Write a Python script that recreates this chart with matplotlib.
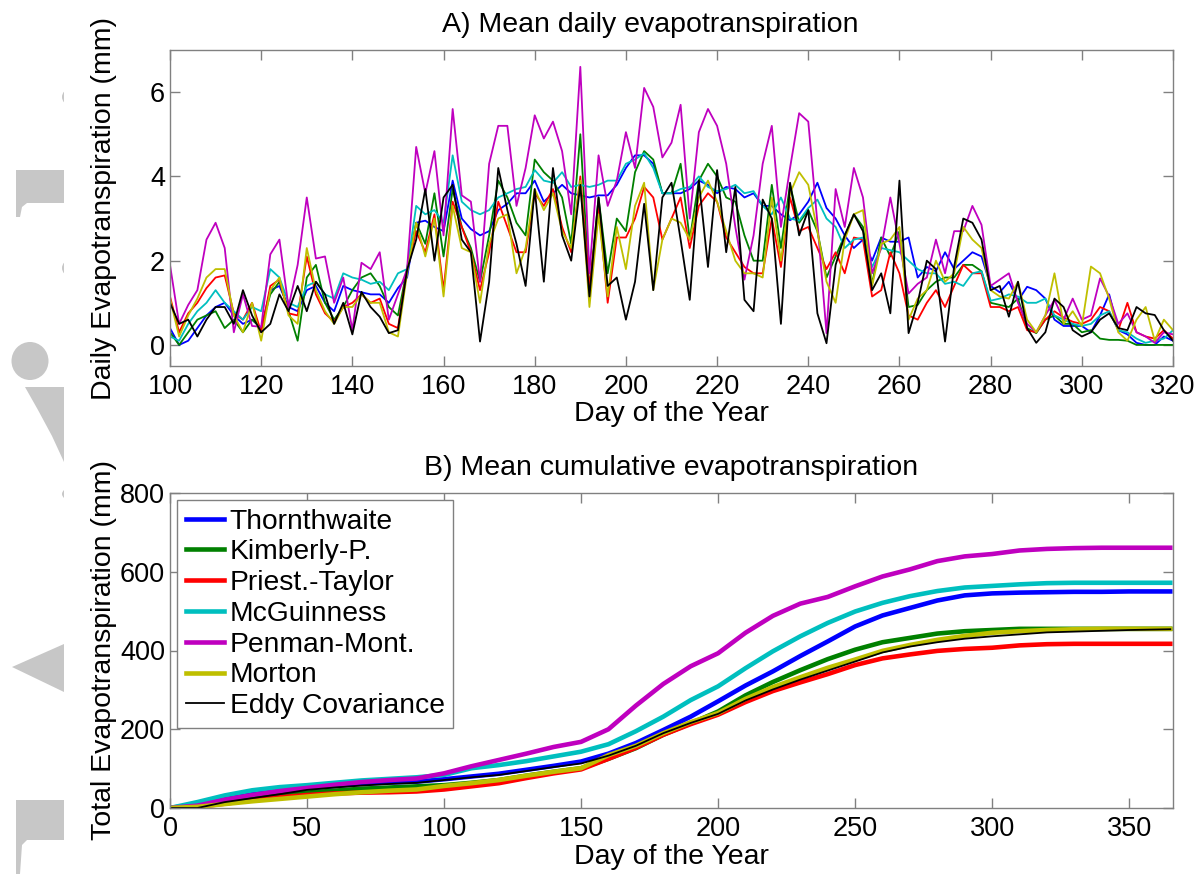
import numpy as np
import matplotlib
matplotlib.use("Agg")
import matplotlib.pyplot as plt
from matplotlib.patches import Ellipse, Polygon

plt.rcParams['font.family'] = ['Liberation Sans', 'DejaVu Sans']

# --------------------------
# Data
# --------------------------
names = ["Thornthwaite", "Kimberly-P.", "Priest.-Taylor", "McGuinness",
         "Penman-Mont.", "Morton", "Eddy Covariance"]
colors = [(0, 0, 1), (0, 0.5, 0), (1, 0, 0), (0, 0.75, 0.75),
          (0.75, 0, 0.75), (0.75, 0.75, 0), (0, 0, 0)]

# A) daily ET, every second day from day 100 to 320
days_daily = np.arange(100, 321, 2)

thorn_daily = [0.4, 0.0, 0.1, 0.4, 0.7, 0.9, 1.0, 0.7, 0.5, 0.6,
               0.4, 1.3, 1.4, 0.9, 0.8, 1.3, 1.4, 1.0, 0.8, 1.4,
               1.3, 1.25, 1.2, 1.2, 1.0, 1.35, 1.6, 2.9, 2.95, 2.8,
               2.7, 3.9, 3.0, 2.75, 2.6, 2.7, 3.2, 3.35, 3.6, 3.6,
               3.9, 3.4, 3.6, 3.8, 3.6, 3.55, 3.5, 3.55, 3.55, 3.8,
               4.2, 4.5, 4.5, 4.3, 3.6, 3.6, 3.6, 3.7, 3.9, 3.8,
               3.6, 3.75, 3.7, 3.5, 3.6, 3.3, 3.3, 3.1, 2.96, 3.1,
               3.4, 3.85, 3.25, 3.0, 2.6, 2.3, 2.5, 2.0, 2.55, 2.45,
               2.45, 2.55, 1.6, 1.85, 1.75, 2.2, 1.8, 2.0, 2.2, 2.1,
               1.4, 1.25, 1.5, 1.05, 1.38, 1.3, 1.1, 0.6, 0.45, 0.45,
               0.45, 0.3, 0.7, 1.2, 0.35, 0.25, 0.05, 0.0, 0.0, 0.2,
               0.1]
kimb_daily = [0.3, 0.0, 0.3, 0.6, 0.7, 0.8, 0.4, 0.6, 0.3, 0.6,
              0.4, 1.2, 1.5, 0.8, 0.1, 1.6, 1.9, 1.0, 0.6, 0.9,
              1.3, 1.6, 1.7, 1.4, 0.9, 0.7, 1.8, 2.9, 2.4, 3.6,
              2.1, 3.7, 2.8, 2.3, 1.5, 2.6, 3.9, 3.5, 2.9, 2.6,
              4.4, 4.1, 3.9, 3.5, 2.4, 5.0, 1.3, 3.5, 1.7, 3.0,
              2.7, 4.1, 4.6, 4.4, 3.6, 3.6, 4.3, 2.5, 3.9, 4.3,
              4.0, 3.5, 3.4, 2.6, 2.0, 2.0, 3.8, 2.3, 3.8, 2.9,
              3.2, 2.7, 1.6, 2.1, 2.6, 3.1, 2.8, 1.45, 2.55, 2.1,
              2.7, 0.9, 0.95, 1.3, 1.5, 1.6, 1.6, 1.9, 1.9, 1.75,
              1.0, 0.95, 0.9, 1.1, 0.4, 0.28, 0.6, 0.7, 0.5, 0.5,
              0.3, 0.35, 0.15, 0.12, 0.12, 0.1, 0.0, 0.0, 0.0, 0.0,
              0.0]
pt_daily = [1.15, 0.3, 0.75, 1.0, 1.35, 1.6, 1.65, 0.75, 0.6, 1.0,
            0.3, 1.4, 1.55, 0.75, 0.7, 2.1, 1.2, 0.75, 0.55, 0.9,
            1.0, 1.2, 1.0, 1.1, 0.5, 0.4, 1.8, 2.7, 2.2, 3.1,
            1.3, 3.4, 2.8, 2.2, 1.3, 2.2, 3.4, 2.8, 2.2, 2.2,
            3.6, 3.3, 3.7, 2.8, 2.2, 4.0, 1.35, 3.3, 1.0, 2.55,
            2.55, 3.0, 3.75, 3.5, 2.5, 3.0, 3.5, 2.3, 3.3, 3.6,
            3.4, 2.55, 2.2, 1.85, 1.7, 1.7, 3.0, 1.85, 3.5, 2.7,
            2.8, 2.3, 1.8, 2.2, 1.7, 2.55, 2.5, 1.15, 1.3, 2.2,
            1.7, 0.7, 0.6, 1.0, 1.3, 0.9, 1.4, 1.9, 1.7, 1.7,
            0.9, 0.9, 0.8, 0.9, 0.35, 0.3, 0.6, 0.8, 0.65, 0.55,
            0.5, 0.6, 0.9, 0.8, 0.35, 1.0, 0.3, 0.2, 0.15, 0.35,
            0.15]
mcg_daily = [0.2, 0.1, 0.5, 0.8, 1.0, 1.3, 1.0, 0.8, 0.6, 0.9,
             0.8, 1.8, 1.6, 1.0, 0.9, 1.4, 1.5, 1.2, 1.1, 1.7,
             1.6, 1.55, 1.45, 1.5, 1.3, 1.7, 1.8, 3.3, 3.1, 3.2,
             2.9, 4.5, 3.4, 3.2, 3.1, 3.2, 3.5, 3.6, 3.7, 3.75,
             4.15, 3.9, 3.85, 4.1, 3.75, 3.8, 3.75, 3.8, 3.9, 3.9,
             4.3, 4.4, 4.55, 4.2, 3.6, 3.6, 3.7, 3.75, 4.0, 3.75,
             3.65, 3.7, 3.8, 3.6, 3.65, 3.3, 3.1, 3.5, 3.0, 2.95,
             3.25, 3.45, 3.0, 2.8, 2.3, 2.5, 2.55, 1.85, 2.3, 2.25,
             2.2, 2.0, 1.8, 1.7, 1.7, 1.45, 1.5, 1.4, 1.7, 1.75,
             1.05, 1.1, 1.2, 1.15, 1.0, 1.0, 1.1, 0.7, 0.6, 0.5,
             0.45, 0.5, 0.7, 0.8, 0.35, 0.3, 0.15, 0.05, 0.1, 0.15,
             0.35]
pm_daily = [1.9, 0.5, 0.95, 1.3, 2.5, 2.9, 2.3, 0.3, 1.2, 0.45,
            0.43, 2.15, 2.5, 0.9, 1.9, 3.5, 2.05, 2.1, 1.0, 1.6,
            0.35, 1.95, 1.8, 2.2, 0.6, 1.2, 1.8, 4.7, 3.6, 4.6,
            2.6, 5.6, 3.55, 3.4, 1.5, 4.3, 5.2, 5.2, 3.3, 4.2,
            5.45, 4.9, 5.3, 4.6, 3.1, 6.6, 1.7, 4.5, 3.3, 3.9,
            5.05, 4.2, 6.1, 5.65, 4.45, 4.8, 5.7, 3.0, 5.05, 5.6,
            5.2, 4.3, 2.8, 1.55, 2.6, 4.3, 5.2, 2.8, 4.2, 5.5,
            5.3, 2.9, 0.28, 3.7, 2.8, 4.2, 3.5, 1.7, 2.3, 3.5,
            2.4, 1.22, 1.45, 1.6, 2.5, 1.7, 2.7, 2.7, 3.3, 2.85,
            1.4, 1.55, 1.7, 1.0, 0.5, 0.3, 0.7, 1.07, 0.6, 1.1,
            0.6, 0.7, 1.58, 1.15, 0.5, 0.75, 0.3, 0.2, 0.05, 0.3,
            0.25]
morton_daily = [1.1, 0.2, 0.7, 1.1, 1.6, 1.8, 1.8, 0.7, 0.3, 1.0,
                0.1, 1.3, 1.6, 0.7, 0.5, 2.3, 1.3, 0.8, 0.5, 0.9,
                0.9, 1.2, 1.0, 1.0, 0.3, 0.2, 1.7, 2.9, 2.1, 3.0,
                1.15, 3.3, 2.3, 2.2, 1.0, 2.4, 3.0, 3.1, 1.7, 2.3,
                3.7, 3.2, 3.6, 2.7, 2.3, 3.9, 0.9, 3.1, 1.15, 2.8,
                1.8, 3.3, 3.85, 1.3, 2.5, 3.0, 2.9, 2.5, 3.5, 3.9,
                3.4, 2.7, 2.0, 1.7, 1.7, 1.6, 3.5, 2.0, 3.6, 4.1,
                3.8, 2.7, 1.5, 1.0, 2.5, 3.1, 3.2, 1.4, 2.4, 2.5,
                2.8, 0.6, 1.1, 1.3, 2.0, 1.5, 1.7, 2.8, 2.5, 2.3,
                1.3, 1.15, 1.1, 1.5, 0.6, 0.3, 0.7, 1.7, 0.5, 0.8,
                0.45, 1.86, 1.7, 1.1, 0.3, 0.1, 0.6, 0.9, 0.1, 0.6,
                0.35]
ec_daily = [1.0, 0.5, 0.6, 0.2, 0.6, 0.9, 0.9, 0.5, 1.3, 0.7,
            0.3, 0.5, 1.2, 0.8, 1.4, 0.8, 1.5, 1.2, 0.5, 1.0,
            0.25, 1.26, 0.9, 0.67, 0.28, 0.35, 1.78, 2.5, 3.7, 2.0,
            3.5, 3.8, 2.5, 2.2, 0.08, 1.5, 4.2, 3.2, 2.4, 1.4,
            3.7, 1.5, 4.2, 2.6, 2.0, 3.8, 1.15, 3.5, 1.4, 1.6,
            0.6, 1.5, 3.35, 1.3, 3.5, 3.85, 2.5, 1.07, 3.9, 1.85,
            4.15, 2.2, 3.75, 1.07, 0.8, 3.45, 3.0, 0.5, 3.85, 2.6,
            3.2, 0.75, 0.04, 1.9, 2.6, 3.1, 2.7, 1.3, 1.7, 0.75,
            3.9, 0.28, 1.0, 2.0, 1.8, 0.08, 1.86, 3.0, 2.9, 2.5,
            1.3, 1.4, 0.67, 1.5, 0.4, 0.05, 0.3, 1.1, 0.9, 0.35,
            0.2, 0.3, 0.6, 0.75, 0.4, 0.35, 0.9, 0.75, 0.71, 0.35,
            0.1]

# B) cumulative ET (mm)
days_cum = [0, 10, 20, 30, 40, 50, 60, 70, 80, 90, 100, 110, 120, 130, 140,
            150, 160, 170, 180, 190, 200, 210, 220, 230, 240, 250, 260, 270,
            280, 290, 300, 310, 320, 330, 340, 350, 365]
thorn_cum = [0, 10, 25, 36, 44, 50, 56, 62, 65, 67, 73, 80, 87, 97, 107,
             118, 138, 165, 198, 232, 271, 311, 347, 386, 423, 461, 489, 508,
             527, 540, 545, 547, 548, 549, 549, 550, 550]
kimb_cum = [0, 5, 16, 27, 34, 39, 44, 49, 52, 55, 58, 64, 71, 82, 92,
            101, 125, 152, 186, 215, 245, 286, 320, 350, 378, 402, 421, 432,
            443, 449, 452, 455, 455, 455, 455, 455, 455]
pt_cum = [0, 3, 11, 20, 27, 33, 37, 39, 40, 42, 47, 55, 63, 76, 88,
          98, 125, 153, 186, 213, 237, 269, 297, 319, 340, 363, 380, 390,
          399, 404, 407, 413, 416, 417, 417, 417, 417]
mcg_cum = [0, 15, 32, 45, 53, 58, 64, 70, 74, 78, 84, 101, 109, 119, 131,
           143, 162, 195, 232, 274, 309, 355, 398, 436, 470, 499, 521, 538,
           551, 560, 564, 568, 571, 572, 572, 572, 572]
pm_cum = [0, 6, 21, 33, 43, 51, 59, 66, 71, 75, 88, 106, 122, 138, 155,
          168, 200, 260, 315, 360, 393, 445, 488, 519, 536, 563, 588, 606,
          627, 639, 645, 654, 658, 660, 661, 661, 661]
morton_cum = [0, 3, 10, 17, 23, 29, 35, 40, 44, 47, 56, 63, 71, 82, 92,
              101, 134, 158, 190, 218, 241, 277, 307, 332, 356, 377, 399, 414,
              427, 437, 445, 449, 452, 454, 455, 455, 455]
ec_cum = [0, 0, 15, 25, 35, 46, 52, 57, 61, 64, 71, 78, 84, 94, 104,
          113, 133, 158, 190, 216, 239, 273, 301, 326, 349, 372, 395, 410,
          421, 430, 436, 441, 446, 448, 450, 452, 454]

daily = [thorn_daily, kimb_daily, pt_daily, mcg_daily, pm_daily, morton_daily, ec_daily]
cumul = [thorn_cum, kimb_cum, pt_cum, mcg_cum, pm_cum, morton_cum, ec_cum]

TICK_FS = 19.5
LABEL_FS = 20.5
GRAY = (0.5, 0.5, 0.5)
WM = (0.78, 0.78, 0.78)


def style_axes(ax):
    for sp in ax.spines.values():
        sp.set_color(GRAY)
        sp.set_linewidth(1.0)
    ax.tick_params(direction='in', top=True, right=True, length=7, width=1,
                   color=GRAY, labelsize=TICK_FS, labelcolor='black')
    ax.tick_params(axis='x', pad=5.5)
    ax.tick_params(axis='y', pad=3.5)


fig = plt.figure(figsize=(12.03, 8.74), dpi=100)

# faint watermark pieces cut at the left edge (pixel coords, y from top)
ax_wm = fig.add_axes([0, 0, 64 / 1203, 1])
ax_wm.set_xlim(0, 64)
ax_wm.set_ylim(874, 0)
ax_wm.axis('off')
ax_wm.add_patch(Ellipse((92, 97), 60, 30, color=WM, lw=0))
ax_wm.add_patch(Polygon([(16, 170), (64, 170), (64, 203), (27, 203), (22, 207),
                         (20, 217), (16, 217)], closed=True, color=WM, lw=0))
ax_wm.add_patch(Ellipse((92, 268), 60, 30, color=WM, lw=0))
ax_wm.add_patch(Ellipse((30, 361), 37, 38, color=WM, lw=0))
ax_wm.add_patch(Polygon([(25, 387), (64, 387), (64, 462), (52, 436), (38, 410)],
                        closed=True, color=WM, lw=0))
ax_wm.add_patch(Ellipse((92, 494), 60, 22, color=WM, lw=0))
ax_wm.add_patch(Polygon([(64, 644), (12, 667), (64, 692)], closed=True, color=WM, lw=0))
ax_wm.add_patch(Polygon([(16, 800), (64, 800), (64, 840), (27, 840), (22, 845),
                         (20, 874), (16, 874)], closed=True, color=WM, lw=0))

# A) Mean daily evapotranspiration
ax1 = fig.add_axes([170 / 1203, 1 - 366 / 874, 1003 / 1203, 316 / 874])
for vals, c in zip(daily, colors):
    ax1.plot(days_daily, vals, color=c, lw=1.3)
ax1.set_xlim(100, 320)
ax1.set_ylim(-0.5, 7)
ax1.set_xticks(np.arange(100, 321, 20))
ax1.set_yticks([0, 2, 4, 6])
style_axes(ax1)
ax1.set_xlabel("Day of the Year", fontsize=LABEL_FS)
ax1.set_ylabel("Daily Evapotranspiration (mm)", fontsize=LABEL_FS)
ax1.xaxis.set_label_coords(0.5, -0.11)
ax1.yaxis.set_label_coords(-0.053, 0.5)
ax1.set_title("A) Mean daily evapotranspiration", fontsize=LABEL_FS, x=0.479, pad=13)

# B) Mean cumulative evapotranspiration
ax2 = fig.add_axes([170 / 1203, 1 - 808 / 874, 1003 / 1203, 315 / 874])
for vals, c, n in zip(cumul, colors, names):
    lw = 1.3 if n == "Eddy Covariance" else 3.3
    ax2.plot(days_cum, vals, color=c, lw=lw, label=n)
ax2.set_xlim(0, 366)
ax2.set_ylim(0, 800)
ax2.set_xticks(np.arange(0, 351, 50))
ax2.set_yticks(np.arange(0, 801, 200))
style_axes(ax2)
ax2.set_xlabel("Day of the Year", fontsize=LABEL_FS)
ax2.set_ylabel("Total Evapotranspiration (mm)", fontsize=LABEL_FS)
ax2.xaxis.set_label_coords(0.5, -0.115)
ax2.yaxis.set_label_coords(-0.053, 0.5)
ax2.set_title("B) Mean cumulative evapotranspiration", fontsize=LABEL_FS, pad=13)

leg = ax2.legend(loc='upper left', fontsize=20.3, frameon=True, fancybox=False,
                 framealpha=1, edgecolor=GRAY, borderaxespad=0.25,
                 borderpad=0.3, labelspacing=0.17, handlelength=1.35,
                 handletextpad=0.22)
leg.get_frame().set_linewidth(1.0)

plt.savefig("out.png", dpi=100)
plt.close()
